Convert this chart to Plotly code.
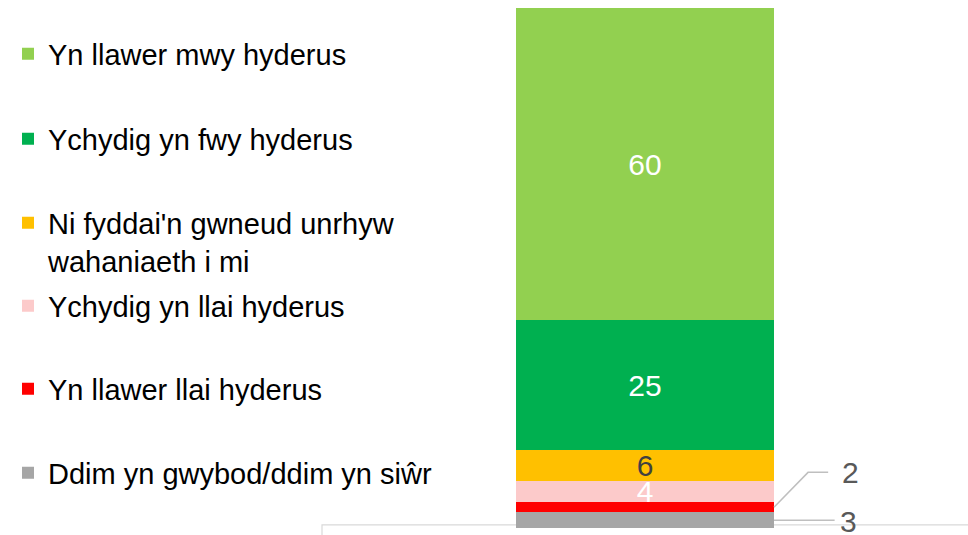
import plotly.graph_objects as go

# data, bottom of the stack first
categories = ["Ddim yn gwybod/ddim yn siŵr", "Yn llawer llai hyderus", "Ychydig yn llai hyderus",
              "Ni fyddai'n gwneud unrhyw<br>wahaniaeth i mi", "Ychydig yn fwy hyderus", "Yn llawer mwy hyderus"]
values = [3, 2, 4, 6, 25, 60]
colors = ["#A6A6A6", "#FF0000", "#FCCACA", "#FFC000", "#00B050", "#92D050"]
label_colors = ["#595959", "#595959", "white", "#404040", "white", "white"]

W, H = 968, 535
FONT = "Liberation Sans, Arial, sans-serif"

fig = go.Figure()

# legend rows (pixel y), top to bottom = last trace first
legend_y = [473, 389, 306, 242, 139, 54]

for i, (name, v) in enumerate(zip(categories, values)):
    inside = v >= 4
    fig.add_trace(go.Bar(
        x=[0], y=[v], name=name, width=1,
        marker=dict(color=colors[i], line=dict(width=0)),
        text=[str(v)] if inside else None,
        textposition="inside", insidetextanchor="middle", textangle=0,
        constraintext="none",
        textfont=dict(size=30, color=label_colors[i], family=FONT),
        legend="legend" if i == 0 else f"legend{i+1}",
        hoverinfo="skip",
    ))

# leader lines + outside labels for the small segments
mids = []
c = 0
for v in values:
    mids.append(c + v / 2)
    c += v

# "2" (red) goes up to the right, "3" (grey) goes straight out
fig.add_trace(go.Scatter(x=[0.5, 0.632, 0.71], y=[mids[1], mids[1] + 6.7, mids[1] + 6.7],
                         mode="lines", line=dict(color="#BFBFBF", width=1.5),
                         showlegend=False, hoverinfo="skip", cliponaxis=False))
fig.add_trace(go.Scatter(x=[0.5, 0.735], y=[mids[0], mids[0]],
                         mode="lines", line=dict(color="#BFBFBF", width=1.5),
                         showlegend=False, hoverinfo="skip", cliponaxis=False))
fig.add_annotation(x=0.795, y=mids[1] + 6.7, text=str(values[1]), showarrow=False,
                   font=dict(size=30, color="#595959", family=FONT))
fig.add_annotation(x=0.79, y=mids[0], text=str(values[0]), showarrow=False, yshift=-1,
                   font=dict(size=30, color="#595959", family=FONT))

# light grey frame peeking in at the bottom
fig.add_shape(type="rect", xref="paper", yref="paper", x0=0, x1=1.1, y0=-0.2, y1=0.006,
              line=dict(color="#D9D9D9", width=1.2), fillcolor="rgba(0,0,0,0)", layer="below")

legends = {}
for i in range(len(categories)):
    key = "legend" if i == 0 else f"legend{i+1}"
    legends[key] = dict(
        x=8 / W, xref="container", xanchor="left",
        y=1 - legend_y[i] / H, yref="container", yanchor="middle",
        font=dict(size=29, color="black", family=FONT),
        bgcolor="rgba(0,0,0,0)", valign="top" if i == 3 else "middle",
    )

fig.update_layout(
    width=W, height=H,
    margin=dict(l=322, r=8, t=8, b=7, autoexpand=False),
    barmode="stack",
    plot_bgcolor="white", paper_bgcolor="white",
    font=dict(family=FONT),
    xaxis=dict(range=[-1.252, 1.221], visible=False, fixedrange=True),
    yaxis=dict(range=[0, 100], visible=False, fixedrange=True),
    **legends,
)

# drop the default page margin so the figure sits at the window's corner
fig.write_html("out.html", config={"displayModeBar": False},
               post_script="document.body.style.margin = '0';")
